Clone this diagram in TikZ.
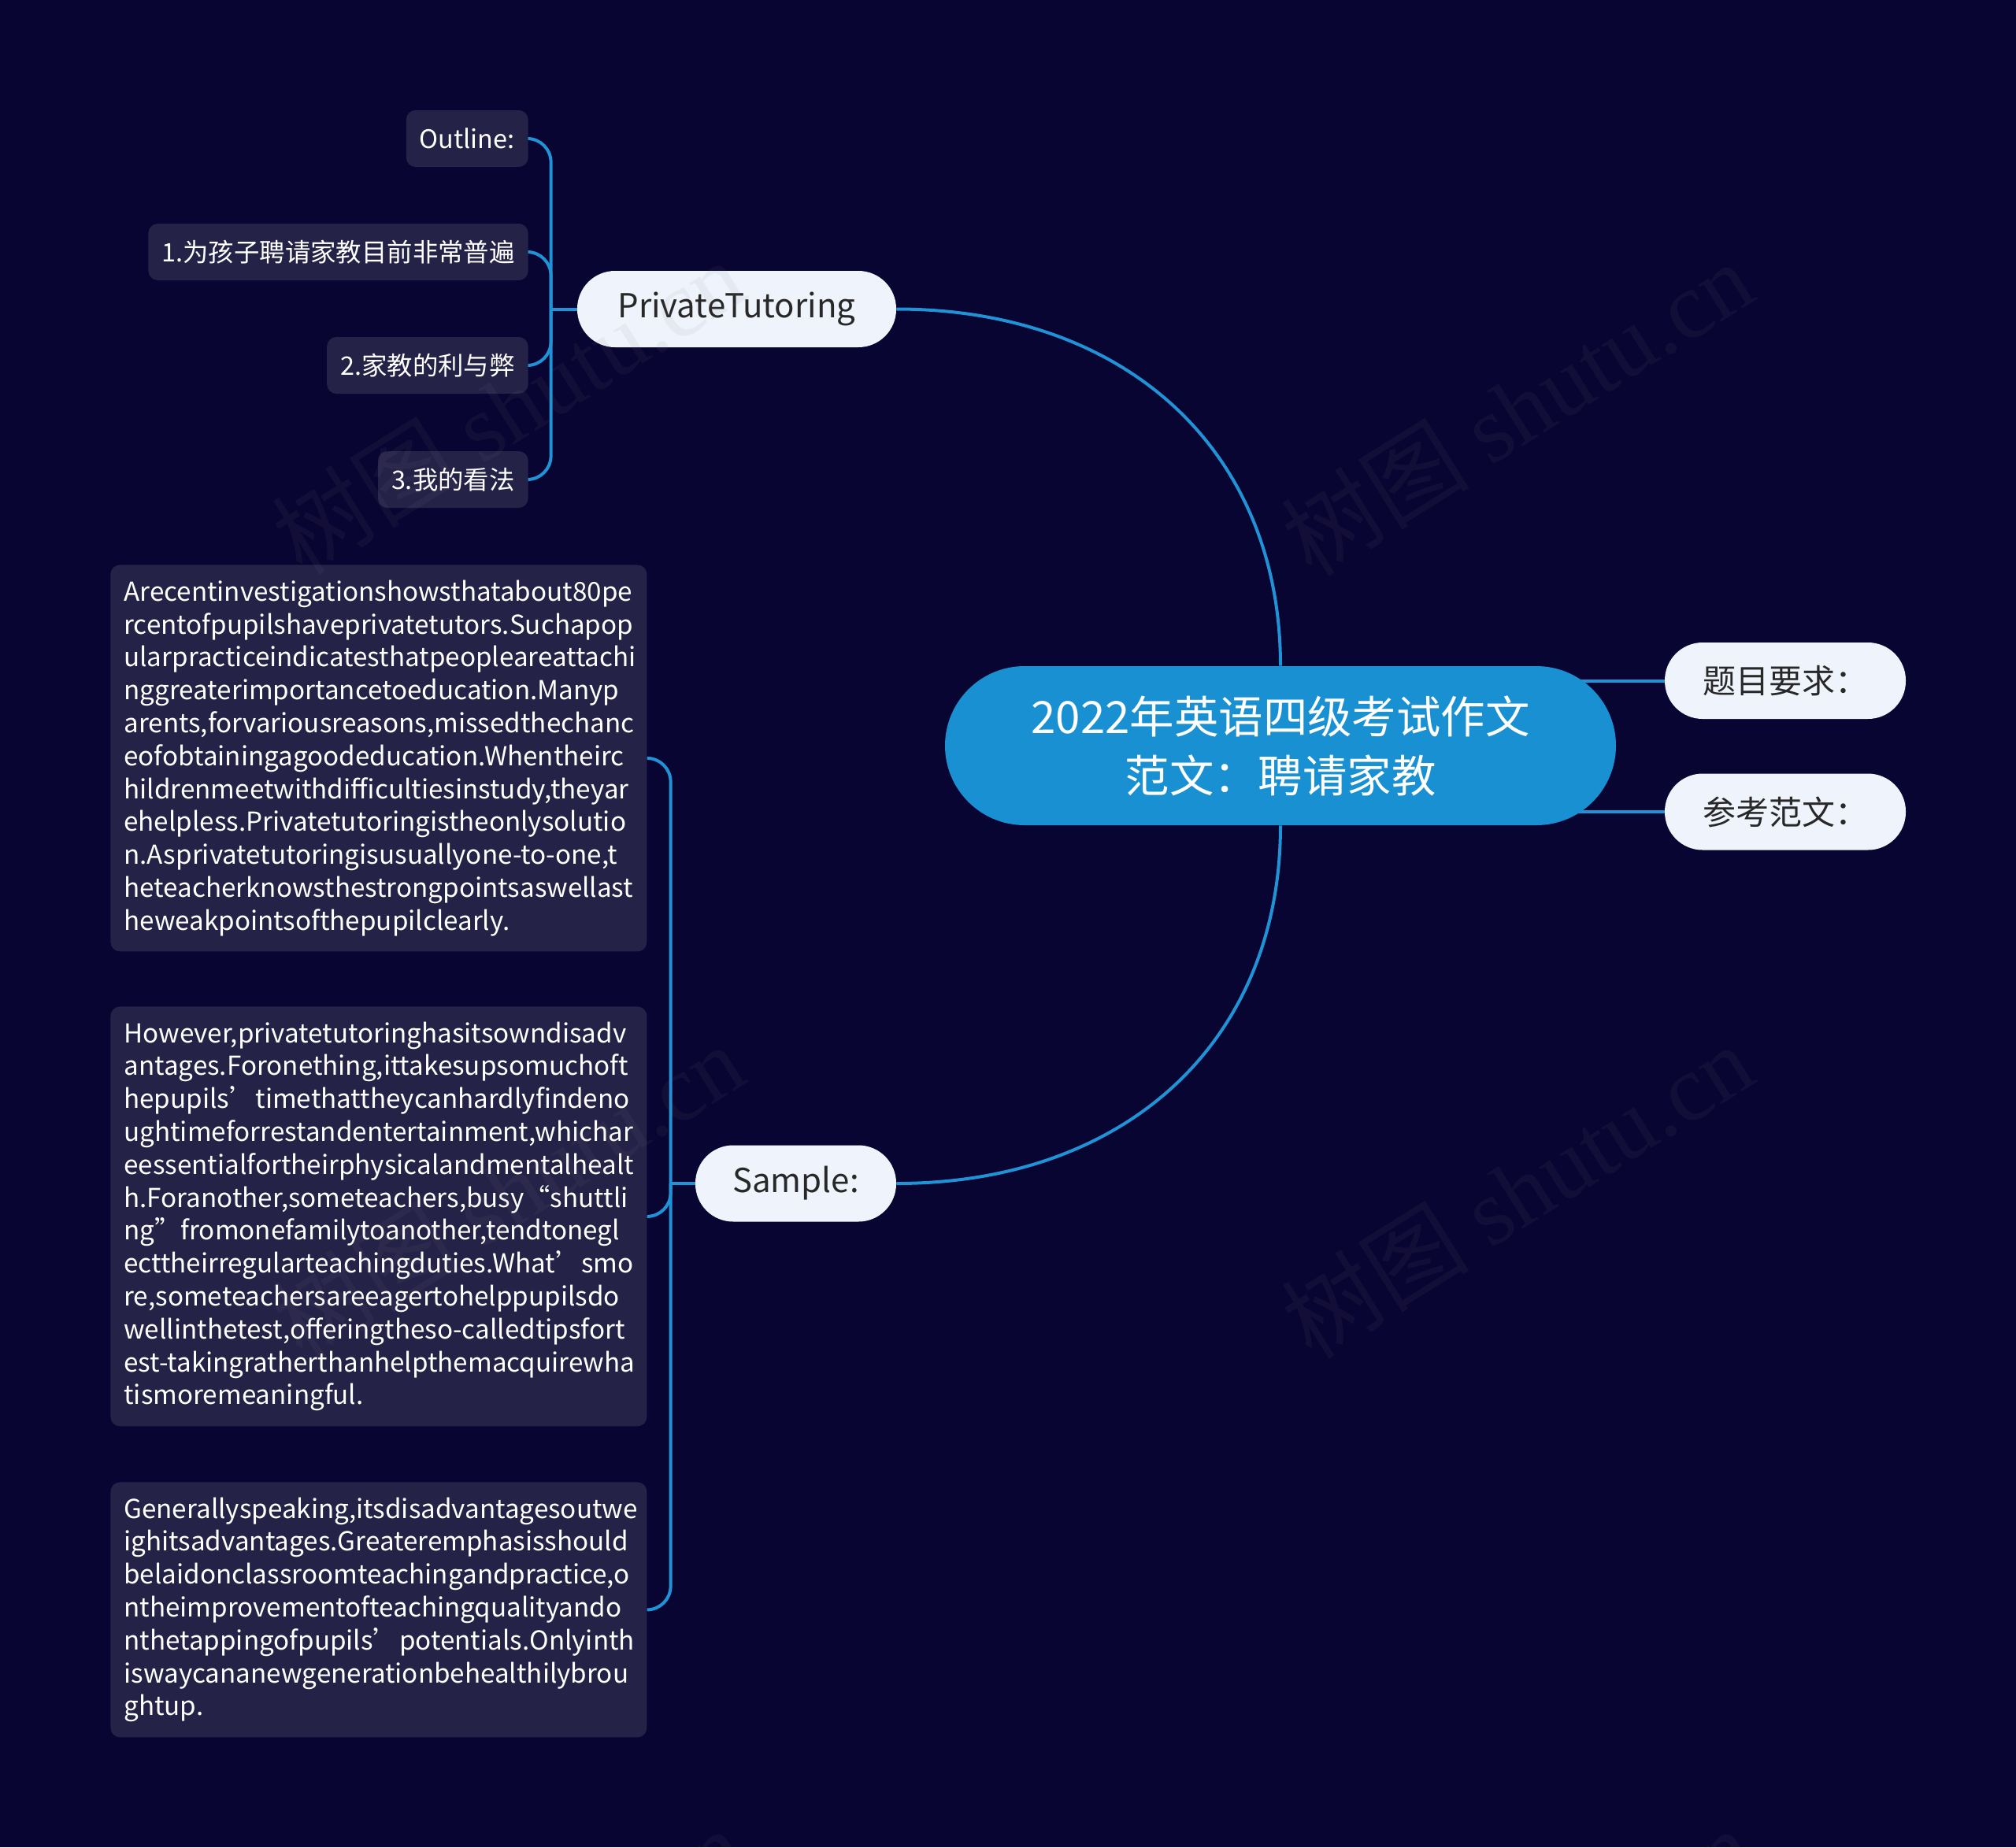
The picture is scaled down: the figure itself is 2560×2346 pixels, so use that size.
\documentclass[tikz,border=0pt]{standalone}
\usepackage{fontspec}
\setmainfont{Noto Sans CJK SC}
\newfontfamily\wmserif{Liberation Serif}
\usetikzlibrary{calc,backgrounds}
\definecolor{bgcol}{RGB}{9,5,50}
\definecolor{rootblue}{RGB}{24,144,210}
\definecolor{linkblue}{RGB}{32,146,214}
\definecolor{lightnode}{RGB}{238,243,252}
\definecolor{darknode}{RGB}{37,34,72}
\definecolor{darktext}{RGB}{40,40,40}
\newcommand\rsq{\makebox[1em][l]{’}}
\newcommand\ldq{\makebox[1em][r]{“}}
\newcommand\rdq{\makebox[1em][l]{”}}
\begin{document}
\hyphenpenalty=10000
\exhyphenpenalty=10000
\begin{tikzpicture}[x=0.5pt,y=-0.5pt,
  link/.style={draw=linkblue,line width=2pt},
  rootnode/.style={fill=rootblue,text=white,rounded corners=50.5pt,minimum width=426pt,minimum height=101pt,inner sep=0pt,align=center,font=\fontsize{28.2}{37.5}\selectfont},
  topic/.style={fill=lightnode,text=darktext,rounded corners=24pt,minimum height=48.5pt,inner sep=0pt,font=\fontsize{21}{24}\selectfont},
  subnode/.style={fill=darknode,text=white,rounded corners=6pt,minimum height=36pt,inner ysep=0pt,inner xsep=8.5pt,anchor=east,font=\fontsize{16.2}{20}\selectfont},
  para/.style={fill=darknode,text=white,rounded corners=6pt,anchor=north west,inner ysep=0pt,inner xsep=8.5pt,text width=323.5pt,align=left,font=\fontsize{16.6}{20.9}\selectfont},
  wm/.style={text=gray,opacity=0.08,rotate=32,font=\fontsize{60}{66}\selectfont}
]
\useasboundingbox (0,0) rectangle (2560,2346);
\clip (0,0) rectangle (2560,2346);

\node[rootnode] (root) at (1626,947) {2022年英语四级考试作文\\范文：聘请家教};
\node[topic,minimum width=202.5pt] (pt) at (935.5,392.5) {PrivateTutoring};
\node[topic,minimum width=127.5pt] (sample) at (1010.5,1503) {Sample:};
\node[topic,minimum width=153pt] (tm) at (2267,864.5) {题目要求：};
\node[topic,minimum width=153pt] (ck) at (2267,1031) {参考范文：};

\node[subnode] (o0) at (671,176) {Outline:};
\node[subnode] (o1) at (671,320) {1.为孩子聘请家教目前非常普遍};
\node[subnode] (o2) at (671,464) {2.家教的利与弊};
\node[subnode] (o3) at (671,609) {3.我的看法};

\node[para,minimum height=245.5pt] (p1) at (140,717) {Arecentinvestigationshowsthatabout80pe\\
rcentofpupilshaveprivatetutors.Suchapop\\
ularpracticeindicatesthatpeopleareattachi\\
nggreaterimportancetoeducation.Manyp\\
arents,forvariousreasons,missedthechanc\\
eofobtainingagoodeducation.Whentheirc\\
hildrenmeetwithdifficultiesinstudy,theyar\\
ehelpless.Privatetutoringistheonlysolutio\\
n.Asprivatetutoringisusuallyone-to-one,t\\
heteacherknowsthestrongpointsaswellast\\
heweakpointsofthepupilclearly.};

\node[para,minimum height=266.5pt] (p2) at (140,1278) {However,privatetutoringhasitsowndisadv\\
antages.Foronething,ittakesupsomuchoft\\
hepupils\rsq timethattheycanhardlyfindeno\\
ughtimeforrestandentertainment,whichar\\
eessentialfortheirphysicalandmentalhealt\\
h.Foranother,someteachers,busy\ldq shuttli\\
ng\rdq fromonefamilytoanother,tendtonegl\\
ecttheirregularteachingduties.What\rsq smo\\
re,someteachersareeagertohelppupilsdo\\
wellinthetest,offeringtheso-calledtipsfort\\
est-takingratherthanhelpthemacquirewha\\
tismoremeaningful.};

\node[para,minimum height=162pt] (p3) at (140,1882) {Generallyspeaking,itsdisadvantagesoutwe\\
ighitsadvantages.Greateremphasisshould\\
belaidonclassroomteachingandpractice,o\\
ntheimprovementofteachingqualityando\\
nthetappingofpupils\rsq potentials.Onlyinth\\
iswaycananewgenerationbehealthilybrou\\
ghtup.};

\coordinate (ptj) at ($(pt.west)+(-33,0)$);
\coordinate (sj) at ($(sample.west)+(-31,0)$);

\begin{scope}[on background layer]
\fill[bgcol] (0,0) rectangle (2560,2346);
\draw[link] (root.north) .. controls ($(root.north)!0.6!(root.north |- pt.east)$) and ($(pt.east)!0.6!(root.north |- pt.east)$) .. (pt.east);
\draw[link] (root.south) .. controls ($(root.south)!0.6!(root.south |- sample.east)$) and ($(sample.east)!0.6!(root.south |- sample.east)$) .. (sample.east);
\draw[link] (root.center |- tm.west) -- (tm.west);
\draw[link] (root.center |- ck.west) -- (ck.west);
\draw[link] (pt.west) -- (ptj);
\foreach \k in {o0,o1,o2,o3}
  \draw[link,rounded corners=15pt] (ptj) |- (\k.east);
\draw[link] (sample.west) -- (sj);
\foreach \k in {p1,p2,p3}
  \draw[link,rounded corners=15pt] (sj) |- (\k.east);
\end{scope}

\foreach \cx/\cy [count=\i] in {645/516,1926/518,645/1512,1926/1512,645/2508,1926/2508}
  \node[wm] (wm\i) at (\cx,\cy) {树图 {\wmserif shutu.cn}};
\end{tikzpicture}
\end{document}
